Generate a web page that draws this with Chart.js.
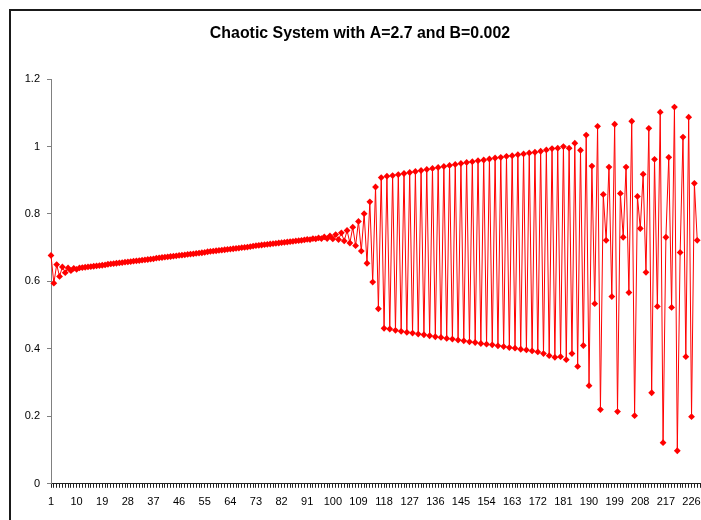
<!DOCTYPE html>
<html>
<head>
<meta charset="utf-8">
<script src="https://cdn.jsdelivr.net/npm/chart.js@4.4.0/dist/chart.umd.min.js"></script>
<style>
  html, body { margin: 0; padding: 0; overflow: hidden; background: #fff; }
  #wrap { position: relative; width: 730px; height: 520px; }
  #frame {
    position: absolute; left: 9px; top: 9px; width: 760px; height: 560px;
    border: 2px solid #1a1a1a; pointer-events: none;
  }
  canvas#chart { position: absolute; left: 0; top: 0; }
</style>
</head>
<body>
<div id="wrap">
  <canvas id="chart" width="730" height="520"></canvas>
  <div id="frame"></div>
</div>
<script>
// Chart values
const chartTitle = 'Chaotic System with A=2.7 and B=0.002';
const stepCount = 236;   // axis runs a little past the last point
const steps = Array.from({ length: stepCount }, (_, i) => String(i + 1));
const labelEvery = 9;
const yTicks = [0, 0.2, 0.4, 0.6, 0.8, 1, 1.2];

// steps 1-11: damped start
const settleValues = [0.677, 0.595, 0.650, 0.615, 0.643, 0.626, 0.640, 0.632, 0.639, 0.636, 0.640];

// steps 12-95: slow drift up
const driftValues = [
  0.641, 0.642, 0.643, 0.644, 0.645, 0.646, 0.647, 0.648, 0.649,
  0.651, 0.652, 0.653, 0.654, 0.655, 0.656, 0.657, 0.658, 0.659, 0.660,
  0.661, 0.662, 0.663, 0.664, 0.665, 0.666, 0.667, 0.669, 0.670, 0.671,
  0.672, 0.673, 0.674, 0.675, 0.676, 0.677, 0.678, 0.679, 0.680, 0.681,
  0.682, 0.683, 0.684, 0.685, 0.686, 0.688, 0.689, 0.690, 0.691, 0.692,
  0.693, 0.694, 0.695, 0.696, 0.697, 0.698, 0.699, 0.700, 0.701, 0.702,
  0.703, 0.705, 0.706, 0.707, 0.708, 0.709, 0.710, 0.711, 0.712, 0.713,
  0.714, 0.715, 0.716, 0.717, 0.718, 0.719, 0.720, 0.721, 0.722,
  0.723, 0.725, 0.724, 0.727, 0.726, 0.729
];

// steps 96-117: oscillation grows
const onsetValues = [
  0.727, 0.732, 0.727, 0.735, 0.726, 0.739, 0.724, 0.744, 0.720, 0.751,
  0.714, 0.761, 0.706, 0.778, 0.690, 0.801, 0.654, 0.836, 0.598, 0.880,
  0.519, 0.908
];

// steps 118-177: two-branch cycle
const splitValues = [
  0.461, 0.912, 0.459, 0.914, 0.455, 0.917, 0.452, 0.920, 0.449, 0.923,
  0.447, 0.926, 0.444, 0.929, 0.442, 0.932, 0.439, 0.935, 0.436, 0.938,
  0.434, 0.941, 0.431, 0.944, 0.429, 0.947, 0.426, 0.950, 0.424, 0.953,
  0.421, 0.955, 0.419, 0.958, 0.416, 0.960, 0.414, 0.963, 0.412, 0.966,
  0.409, 0.968, 0.407, 0.971, 0.404, 0.973, 0.402, 0.976, 0.399, 0.978,
  0.397, 0.981, 0.394, 0.983, 0.391, 0.986, 0.386, 0.990, 0.380, 0.994
];

// steps 178-228: chaotic tail
const chaosValues = [
  0.375, 0.995, 0.377, 1.000, 0.368, 0.995, 0.386, 1.010, 0.348, 0.989,
  0.410, 1.034, 0.291, 0.942, 0.534, 1.060, 0.220, 0.858, 0.722, 0.939,
  0.555, 1.066, 0.214, 0.861, 0.731, 0.939, 0.567, 1.075, 0.202, 0.852,
  0.757, 0.918, 0.627, 1.054, 0.270, 0.962, 0.526, 1.102, 0.122, 0.731,
  0.968, 0.523, 1.117, 0.098, 0.686, 1.028, 0.377, 1.087, 0.199, 0.891,
  0.722
];

const seriesValues = [].concat(settleValues, driftValues, onsetValues, splitValues, chaosValues);

const red = '#ff0000';
const fontFamily = '"Liberation Sans", Arial, sans-serif';

new Chart(document.getElementById('chart'), {
  type: 'line',
  data: {
    labels: steps,
    datasets: [{
      data: seriesValues,
      borderColor: red,
      backgroundColor: red,
      borderWidth: 1,
      pointStyle: 'rectRot',
      pointRadius: 3.4,
      pointBorderWidth: 0,
      pointBackgroundColor: red,
      tension: 0
    }]
  },
  options: {
    responsive: false,
    animation: false,
    events: [],
    layout: { padding: { left: 0, right: 10, top: 0, bottom: 3 } },
    plugins: {
      legend: { display: false },
      tooltip: { enabled: false },
      title: {
        display: true,
        text: chartTitle,
        color: '#000',
        font: { family: fontFamily, size: 15.9, weight: 'bold' },
        padding: { top: 24, bottom: 36 }
      }
    },
    scales: {
      x: {
        type: 'category',
        offset: false,
        grid: {
          display: true,
          drawOnChartArea: false,
          drawTicks: true,
          tickLength: 4,
          color: '#222'
        },
        border: { display: true, color: '#222', width: 1 },
        ticks: {
          autoSkip: false,
          maxRotation: 0,
          minRotation: 0,
          padding: 8,
          color: '#000',
          font: { family: fontFamily, size: 11 },
          callback: (value, index) => (index % labelEvery === 0 ? steps[index] : '')
        }
      },
      y: {
        min: yTicks[0],
        max: yTicks[yTicks.length - 1],
        afterFit: (scale) => { scale.width = 51; },
        afterBuildTicks: (scale) => { scale.ticks = yTicks.map((v) => ({ value: v })); },
        grid: {
          display: true,
          drawOnChartArea: false,
          drawTicks: true,
          tickLength: 4,
          color: '#808080'
        },
        border: { display: true, color: '#808080', width: 1 },
        ticks: {
          padding: 7,
          color: '#000',
          font: { family: fontFamily, size: 11 },
          callback: (value) => String(Math.round(value * 10) / 10)
        }
      }
    }
  }
});
</script>
</body>
</html>
